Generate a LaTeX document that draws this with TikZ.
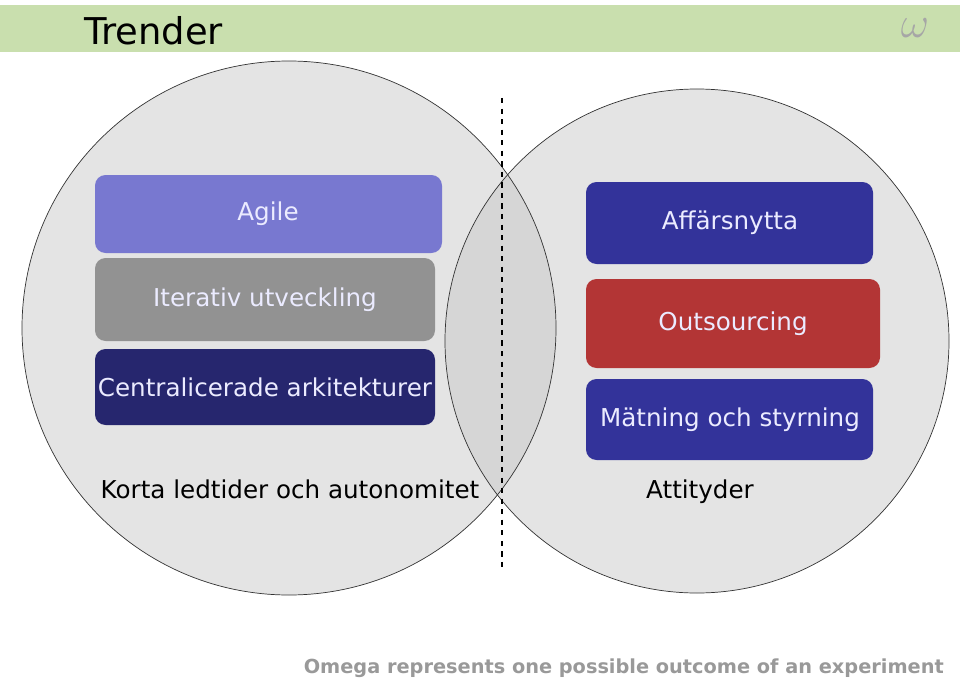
\documentclass[tikz,border=0pt]{standalone}
\usepackage{fontspec}
\setmainfont{DejaVu Sans}
\definecolor{bandgreen}{HTML}{C9DFAE}
\definecolor{circgrey}{HTML}{E4E4E4}
\definecolor{overgrey}{HTML}{D6D6D6}
\definecolor{agileblue}{HTML}{7878D0}
\definecolor{itergrey}{HTML}{929292}
\definecolor{navy}{HTML}{26266E}
\definecolor{royal}{HTML}{33339A}
\definecolor{brick}{HTML}{B33535}
\tikzset{
  tbox/.style={rounded corners=6pt, inner sep=0pt, text=white!92!blue, font=\fontsize{14}{16}\selectfont},
  clabel/.style={font=\fontsize{14}{16}\selectfont, anchor=center}
}
\begin{document}
\begin{tikzpicture}[x=0.02cm, y=-0.02cm]
    \useasboundingbox (0,0) rectangle (960,679);
    % header
    \fill[bandgreen] (0,5) rectangle (960,52);
    \node (title) [anchor=west, font=\fontsize{21}{24}\selectfont] at (78,31) {Trender};
    \node (logo) [text=gray!70, font=\fontsize{40}{40}\selectfont] at (915,28) {$\omega$};

    % circles
    \fill[circgrey] (289,328) circle (267);
    \fill[circgrey] (697,341) circle (252);
    \begin{scope}
        \clip (289,328) circle (267);
        \fill[overgrey] (697,341) circle (252);
    \end{scope}
    \draw[black!80] (289,328) circle (267);
    \draw[black!80] (697,341) circle (252);
    \coordinate (cut_top) at (502,98);
    \coordinate (cut_bot) at (502,570);
    \draw[dashed, thick] (cut_top) -- (cut_bot);

    % left boxes
    \fill[agileblue, rounded corners=6pt] (95,175) rectangle (442,253);
    \node (agile) [tbox] at (268,214) {Agile};
    \fill[itergrey, rounded corners=6pt] (95,258) rectangle (435,341);
    \node (iter) [tbox] at (265,300) {Iterativ utveckling};
    \fill[navy, rounded corners=6pt] (95,349) rectangle (435,425);
    \node (central) [tbox] at (265,387) {Centralicerade arkitekturer};
    \node (korta) [clabel] at (290,489) {Korta ledtider och autonomitet};

    % right boxes
    \fill[royal, rounded corners=6pt] (586,182) rectangle (873,264);
    \node (affar) [tbox] at (730,223) {Affärsnytta};
    \fill[brick, rounded corners=6pt] (586,279) rectangle (880,368);
    \node (outs) [tbox] at (733,324) {Outsourcing};
    \fill[royal, rounded corners=6pt] (586,379) rectangle (873,460);
    \node (matn) [tbox] at (730,420) {Mätning och styrning};
    \node (attit) [clabel] at (700,492) {Attityder};

    % footer
    \node (foot) [anchor=east, text=gray!80, font=\bfseries\fontsize{11}{13}\selectfont] at (950,668) {Omega represents one possible outcome of an experiment};
\end{tikzpicture}
\end{document}
